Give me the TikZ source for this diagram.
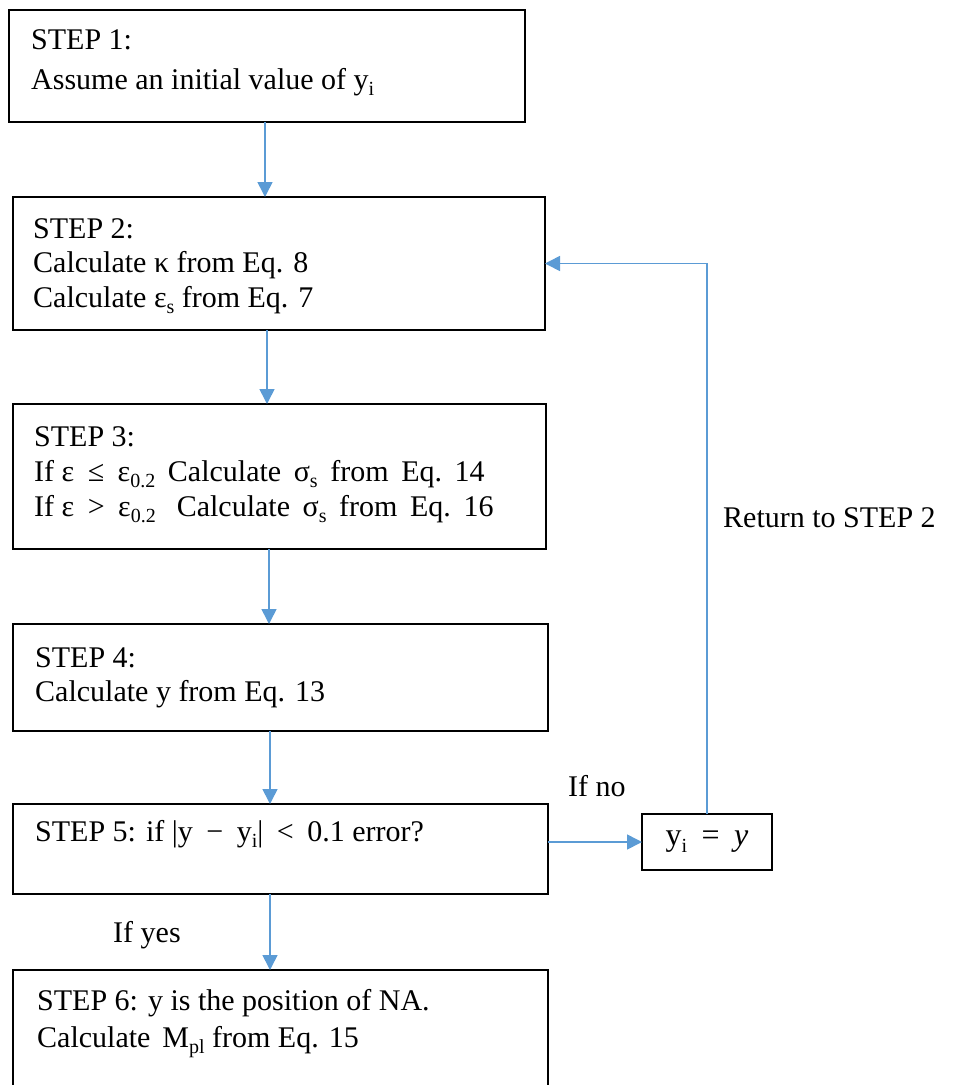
\documentclass[tikz,border=0pt]{standalone}
\usepackage{fontspec}
\setmainfont{Liberation Serif}
\usetikzlibrary{arrows.meta}
\definecolor{arrblue}{HTML}{5B9BD5}
\newcommand\sbs[1]{\raisebox{-0.22em}{\fontsize{20}{20}\selectfont #1}}
\newcommand\opsp{\hspace{0.45em}}
\newcommand\wsp{\hspace{0.42em}}
\begin{document}
\begin{tikzpicture}[x=1pt,y=-1pt,
  box/.style={draw=black,line width=1.8pt,inner sep=0pt,outer sep=0pt},
  txt/.style={anchor=base west,inner sep=0pt,font=\fontsize{30}{36}\selectfont},
  arr/.style={draw=arrblue,line width=1.6pt,-{Triangle[length=15pt,width=15pt]}}]
\useasboundingbox (0,0) rectangle (957,1085);
\clip (0,0) rectangle (957,1085);
% boxes
\node[box,minimum width=516pt,minimum height=112pt] (b1) at (267,66) {};
\node[box,minimum width=532pt,minimum height=133pt] (b2) at (279,263.5) {};
\node[box,minimum width=533pt,minimum height=145pt] (b3) at (279.5,476.5) {};
\node[box,minimum width=535pt,minimum height=107pt] (b4) at (280.5,677.5) {};
\node[box,minimum width=535pt,minimum height=90pt] (b5) at (280.5,849) {};
\node[box,minimum width=535pt,minimum height=140pt] (b6) at (280.5,1040) {};
\node[box,minimum width=130pt,minimum height=56pt,font=\fontsize{32}{36}\selectfont] (by) at (707,842) {y\sbs{i}\opsp=\opsp\textit{y}};
% texts
\node[txt] (t1a) at (31,49) {STEP 1:};
\node[txt] (t1b) at (31,89) {Assume an initial value of y\sbs{i}};
\node[txt] (t2a) at (33,238) {STEP 2:};
\node[txt] (t2b) at (33,272) {Calculate κ from Eq. 8};
\node[txt] (t2c) at (33,307) {Calculate ε\sbs{s} from Eq. 7};
\node[txt] (t3a) at (34,446) {STEP 3:};
\node[txt] (t3b) at (34,481) {If ε\opsp≤\opsp ε\sbs{0.2}\wsp Calculate\wsp σ\sbs{s}\wsp from\wsp Eq.\wsp 14};
\node[txt] (t3c) at (34,516) {If ε\opsp>\opsp ε\sbs{0.2}\hspace{0.7em}Calculate\wsp σ\sbs{s}\wsp from\wsp Eq.\wsp 16};
\node[txt] (t4a) at (35,667) {STEP 4:};
\node[txt] (t4b) at (35,701) {Calculate y from Eq. 13};
\node[txt] (t5a) at (35,841) {STEP 5: if |y\opsp−\opsp y\sbs{i}|\opsp<\opsp 0.1 error?};
\node[txt] (t6a) at (37,1010) {STEP 6: y is the position of NA.};
\node[txt] (t6b) at (37,1047) {Calculate\hspace{0.15em} M\sbs{pl} from Eq. 15};
\node[txt] (lno) at (568,796) {If no};
\node[txt] (lret) at (723,527) {Return to STEP 2};
\node[txt] (lyes) at (113,942) {If yes};
% connectors
\coordinate (ax1) at (265,0);
\coordinate (ax2) at (267,0);
\coordinate (ax3) at (269,0);
\coordinate (ax4) at (270,0);
\draw[arr] (b1.south -| ax1) -- (b2.north -| ax1);
\draw[arr] (b2.south -| ax2) -- (b3.north -| ax2);
\draw[arr] (b3.south -| ax3) -- (b4.north -| ax3);
\draw[arr] (b4.south -| ax4) -- (b5.north -| ax4);
\draw[arr] (b5.south -| ax4) -- (b6.north -| ax4);
\draw[arr] (b5.east |- by.west) -- (by.west);
\draw[arr] (by.north) -- (by.north |- b2.east) -- (b2.east);
\end{tikzpicture}
\end{document}
